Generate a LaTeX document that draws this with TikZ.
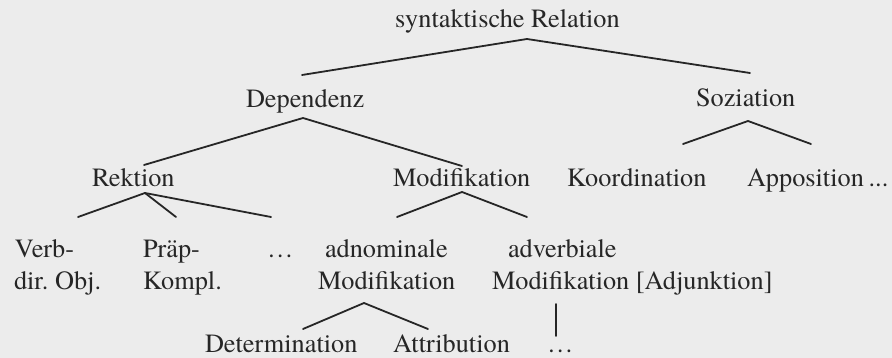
\documentclass[tikz,border=0pt]{standalone}
\usepackage{fontspec}
\setmainfont{texgyretermes}[Extension=.otf,UprightFont=*-regular]
\definecolor{bg}{RGB}{236,236,236}
\definecolor{ink}{RGB}{38,38,38}
\begin{document}
\frenchspacing
\begin{tikzpicture}[x=1pt,y=-1pt,
  lbl/.style={anchor=base west,inner sep=0pt,outer sep=0pt,text=ink,font=\fontsize{26.3}{31}\selectfont},
  edge/.style={draw=ink,line width=1.8pt,line cap=round}]
\fill[bg] (0,0) rectangle (892,358);
\useasboundingbox (0,0) rectangle (892,358);
% labels
\node[lbl] (syn) at (395,28) {syntaktische Relation};
\node[lbl] (dep) at (246,108) {Dependenz};
\node[lbl] (soz) at (696,107) {Soziation};
\node[lbl] (rek) at (92,187) {Rektion};
\node[lbl] (mod) at (393,187) {Modifikation};
\node[lbl] (koo) at (567,187) {Koordination};
\node[lbl] (app) at (747,187) {Apposition\hspace{0.18em}...};
\node[lbl] (verbA) at (15,258) {Verb-};
\node[lbl] (verbB) at (14,290) {dir.\ Obj.};
\node[lbl] (praepA) at (143,258) {Präp-};
\node[lbl] (praepB) at (143,290) {Kompl.};
\node[lbl] (dotsA) at (267,258) {…};
\node[lbl] (adnA) at (325,258) {adnominale};
\node[lbl] (adnB) at (318,290) {Modifikation};
\node[lbl] (advA) at (508,258) {adverbiale};
\node[lbl] (advB) at (492,290) {Modifikation [Adjunktion]};
\node[lbl] (det) at (205,352) {Determination};
\node[lbl] (att) at (393,352) {Attribution};
\node[lbl] (dotsB) at (547,352) {…};
% connectors
\draw[edge] ([shift={(56,-33)}]dep.base west) -- ([shift={(132,11)}]syn.base west) -- ([shift={(54,-34)}]soz.base west);
\draw[edge] ([shift={(52,-22)}]rek.base west) -- ([shift={(57,10)}]dep.base west) -- ([shift={(69,-21)}]mod.base west);
\draw[edge] ([shift={(116,-43)}]koo.base west) -- ([shift={(52,14)}]soz.base west) -- ([shift={(64,-43)}]app.base west);
\draw[edge] ([shift={(53,6)}]rek.base west) -- ([shift={(63,-41)}]verbA.base west);
\draw[edge] ([shift={(53,6)}]rek.base west) -- ([shift={(33,-41)}]praepA.base west);
\draw[edge] ([shift={(53,6)}]rek.base west) -- ([shift={(4,-41)}]dotsA.base west);
\draw[edge] ([shift={(72,-41)}]adnA.base west) -- ([shift={(69,5)}]mod.base west) -- ([shift={(19,-41)}]advA.base west);
\draw[edge] ([shift={(98,-23)}]det.base west) -- ([shift={(46,13)}]adnB.base west) -- ([shift={(35,-23)}]att.base west);
\draw[edge] ([shift={(64,14)}]advB.base west) -- ([shift={(9,-16)}]dotsB.base west);
\end{tikzpicture}
\end{document}
